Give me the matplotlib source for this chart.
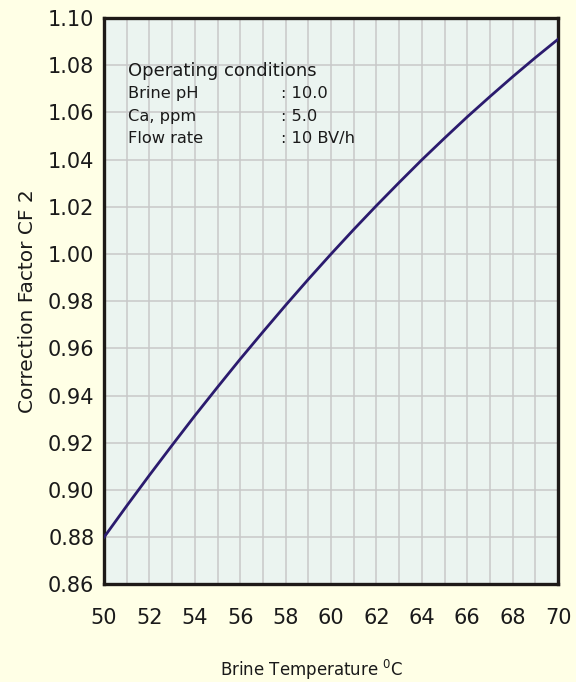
import matplotlib.pyplot as plt
import numpy as np

# Correction factor CF 2 vs brine temperature
temperature = [50, 51, 52, 53, 54, 55, 56, 57, 58, 59, 60,
               61, 62, 63, 64, 65, 66, 67, 68, 69, 70]
cf2 = [0.8800, 0.8933, 0.9063, 0.9190, 0.9315, 0.9436, 0.9555, 0.9670, 0.9783, 0.9893, 1.0000,
       1.0104, 1.0205, 1.0303, 1.0399, 1.0491, 1.0581, 1.0667, 1.0751, 1.0832, 1.0910]

x_ticks = [50, 52, 54, 56, 58, 60, 62, 64, 66, 68, 70]
y_ticks = [0.86, 0.88, 0.90, 0.92, 0.94, 0.96, 0.98, 1.00, 1.02, 1.04, 1.06, 1.08, 1.10]

cond_names = ["Brine pH", "Ca, ppm", "Flow rate"]
cond_values = [": 10.0", ": 5.0", ": 10 BV/h"]

plt.rcParams['font.family'] = ['DejaVu Sans']

fig = plt.figure(figsize=(5.76, 6.82), dpi=100)
fig.patch.set_facecolor("#FFFFE6")
ax = fig.add_axes([0.1806, 0.143, 0.7882, 0.8306])
ax.set_facecolor("#EBF4F0")

ax.plot(temperature, cf2, color="#2B1B6E", linewidth=2.0, zorder=3)

ax.set_xlim(50, 70)
ax.set_ylim(0.86, 1.10)
ax.set_xticks(x_ticks)
ax.set_yticks(y_ticks)
ax.set_xticklabels([str(t) for t in x_ticks])
ax.set_yticklabels([f"{v:.2f}" for v in y_ticks])
ax.set_xticks(np.arange(50, 71, 1), minor=True)
ax.grid(True, which="both", color="#C8C8C8", linewidth=1.1, zorder=1)
ax.set_axisbelow(True)
ax.tick_params(axis="both", which="both", length=0, labelsize=15, colors="#1A1A1A")
ax.tick_params(axis="x", pad=17)
ax.tick_params(axis="y", pad=7)

for s in ax.spines.values():
    s.set_color("#1E1A18")
    s.set_linewidth(2.4)

ax.set_xlabel("Brine Temperature $^{0}$C", fontsize=12, labelpad=22, color="#1A1A1A")
ax.xaxis.set_label_coords(0.458, -0.13)
ax.set_ylabel("Correction Factor CF 2", fontsize=14.5, labelpad=8, color="#1A1A1A")

# operating conditions box
ax.text(0.053, 0.906, "Operating conditions", transform=ax.transAxes,
        fontsize=13, va="center", color="#1A1A1A")
for i, (n, v) in enumerate(zip(cond_names, cond_values)):
    yy = 0.866 - i * 0.0394
    ax.text(0.053, yy, n, transform=ax.transAxes, fontsize=11.7, va="center", color="#1A1A1A")
    ax.text(0.390, yy, v, transform=ax.transAxes, fontsize=11.7, va="center", color="#1A1A1A")

plt.savefig("out.png", dpi=100, facecolor=fig.get_facecolor())
plt.close()
